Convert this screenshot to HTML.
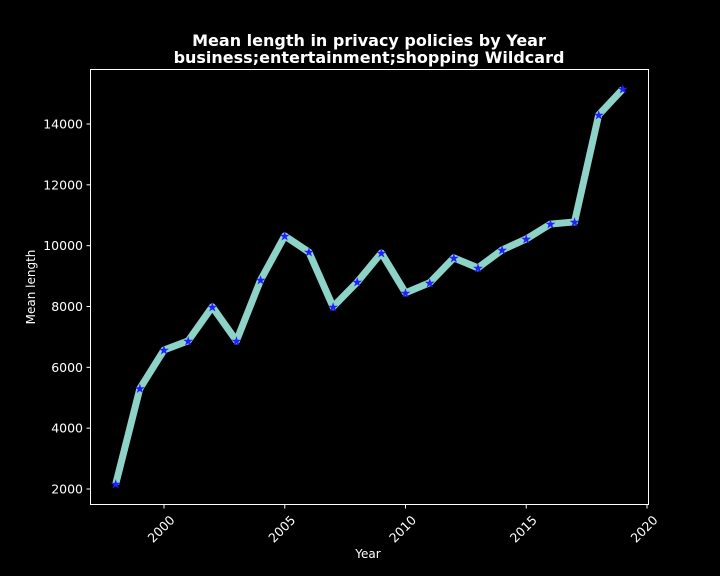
<!DOCTYPE html>
<html><head><meta charset="utf-8"><style>
html,body{margin:0;padding:0;background:#000;}
svg{display:block;font-family:"DejaVu Sans","Liberation Sans",sans-serif;}
</style></head><body>
<svg id="chart" width="720" height="576">
<rect width="720" height="576" fill="#000"/>
<text x="369" y="46" fill="#fff" font-size="16" font-weight="bold" text-anchor="middle">Mean length in privacy policies by Year</text>
<text x="369" y="63" fill="#fff" font-size="16" font-weight="bold" text-anchor="middle">business;entertainment;shopping Wildcard</text>
<rect x="90.5" y="69.5" width="558" height="435" fill="none" stroke="#fff" stroke-width="1"/>
<g id="xticks"></g>
<g id="yticks"></g>
<text x="368" y="558" fill="#fff" font-size="12" text-anchor="middle">Year</text>
<text x="35" y="287" fill="#fff" font-size="12" text-anchor="middle" transform="rotate(-90 35 287)">Mean length</text>
<g id="series"></g>
</svg>
<script>
const years = [1998,1999,2000,2001,2002,2003,2004,2005,2006,2007,2008,2009,2010,2011,2012,2013,2014,2015,2016,2017,2018,2019];
const meanLength = [2160,5300,6570,6870,7990,6870,8870,10320,9790,7990,8800,9760,8450,8780,9600,9270,9860,10220,10710,10780,14300,15150];
const xTickValues = [2000,2005,2010,2015,2020];
const yTickValues = [2000,4000,6000,8000,10000,12000,14000];

const NS = "http://www.w3.org/2000/svg";
function xScale(v){ return 164 + (v - 2000) * 24.15; }
function yScale(v){ return 489 - (v - 2000) * (365 / 12000); }
function mk(tag, attrs, parent){
  const e = document.createElementNS(NS, tag);
  for (const k in attrs) e.setAttribute(k, attrs[k]);
  parent.appendChild(e);
  return e;
}
const xg = document.getElementById('xticks');
xTickValues.forEach(v => {
  const x = xScale(v);
  const t = mk('line', {x1:x, x2:x, y1:504.5, y2:508.5, stroke:'#fff'}, xg);
  
  
  const l = mk('text', {x:x+3, y:518, fill:'#fff', 'font-size':12.5, 'text-anchor':'end', transform:`rotate(-45 ${x+3} 518)`}, xg);
  
  
  l.setAttribute('dx', '4'); l.setAttribute('dy', '8');
  l.textContent = v;
});
const yg = document.getElementById('yticks');
yTickValues.forEach(v => {
  const y = yScale(v);
  const t = mk('line', {x1:86.5, x2:90.5, y1:y, y2:y, stroke:'#fff'}, yg);
  
  
  const l = mk('text', {x:83, y:y+4.5, fill:'#fff', 'font-size':12.5, 'text-anchor':'end'}, yg);
  
  
  l.textContent = v;
});
const sg = document.getElementById('series');
const pts = years.map((y,i) => xScale(y) + ',' + yScale(meanLength[i])).join(' ');
const line = mk('polyline', {points:pts, fill:'none', stroke:'#8dd3c7', 'stroke-width':7, 'stroke-linejoin':'round', 'stroke-linecap':'butt'}, sg);


years.forEach((y,i) => {
  const m = mk('text', {x:xScale(y), y:yScale(meanLength[i]) + 4.5, fill:'#1f1fff', 'font-size':13, 'text-anchor':'middle'}, sg);
  
  
  m.textContent = '★';
});
</script>
</body></html>
